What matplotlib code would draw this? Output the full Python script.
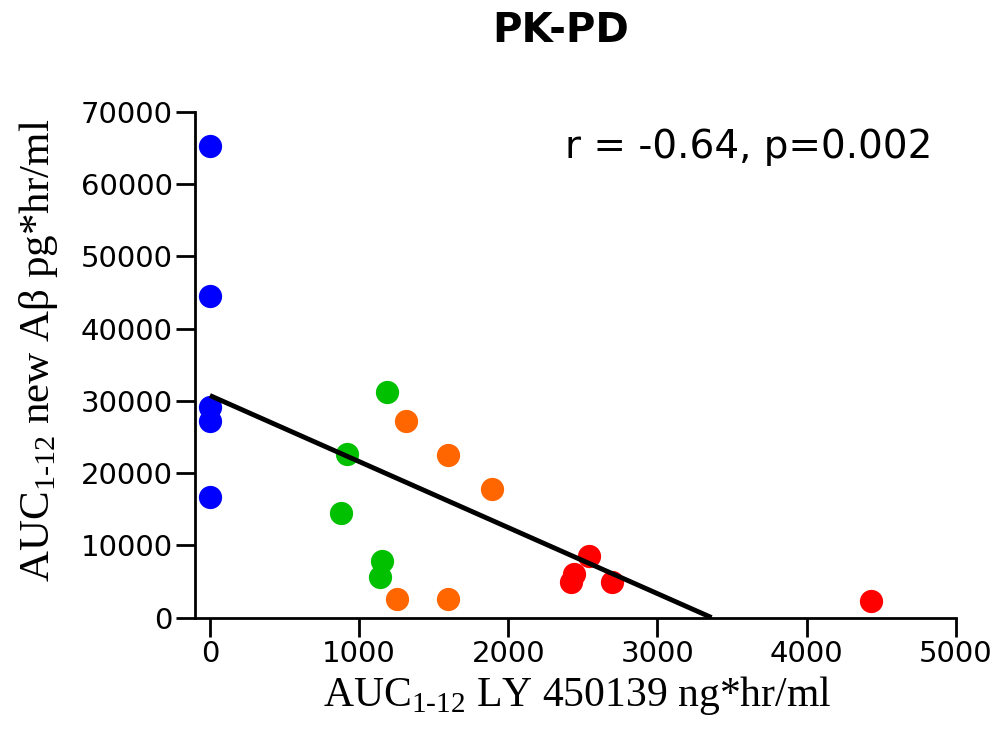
import numpy as np
import matplotlib
matplotlib.use("Agg")
import matplotlib.pyplot as plt

# AUC values, one list per dose group
blue_x = [0, 0, 0, 0, 0]
blue_y = [65300, 44500, 29200, 27200, 16700]

green_x = [1186, 918, 878, 1153, 1139]
green_y = [31250, 22650, 14500, 7850, 5600]

orange_x = [1314, 1595, 1890, 1253, 1595]
orange_y = [27200, 22500, 17800, 2600, 2600]

red_x = [2540, 2440, 2420, 2694, 4430]
red_y = [8500, 6000, 4900, 4900, 2300]

x_ticks = [0, 1000, 2000, 3000, 4000, 5000]
y_ticks = [0, 10000, 20000, 30000, 40000, 50000, 60000, 70000]

plt.rcParams['mathtext.fontset'] = 'custom'
plt.rcParams['mathtext.rm'] = 'Liberation Serif'

fig = plt.figure(figsize=(10.05, 7.42), dpi=100)
ax = fig.add_axes([0.194, 0.1677, 0.757, 0.6813])

ms = 280
ax.scatter(blue_x, blue_y, s=ms, color='#0000ff', zorder=3, linewidths=0)
ax.scatter(green_x, green_y, s=ms, color='#00c000', zorder=3, linewidths=0)
ax.scatter(orange_x, orange_y, s=ms, color='#ff6600', zorder=3, linewidths=0)
ax.scatter(red_x, red_y, s=ms, color='#ff0000', zorder=3, linewidths=0)

# linear fit over all points, drawn from x=0 down to where it meets y=0
all_x = np.array(blue_x + green_x + orange_x + red_x, dtype=float)
all_y = np.array(blue_y + green_y + orange_y + red_y, dtype=float)
slope, intercept = np.polyfit(all_x, all_y, 1)
x_end = -intercept / slope
ax.plot([0, x_end], [intercept, 0], color='black', lw=3.5, zorder=4,
        solid_capstyle='butt')

ax.set_xlim(-100, 5000)
ax.set_ylim(0, 70000)
ax.set_xticks(x_ticks)
ax.set_yticks(y_ticks)

for s in ['top', 'right']:
    ax.spines[s].set_visible(False)
for s in ['left', 'bottom']:
    ax.spines[s].set_linewidth(2)

ax.tick_params(axis='both', length=14, width=2, pad=2, labelsize=21)

ax.set_xlabel(r'AUC$_{\mathrm{1\text{-}12}}$ LY 450139 ng*hr/ml',
              family='Liberation Serif', fontsize=30)
ax.set_ylabel(r'AUC$_{\mathrm{1\text{-}12}}$ new A$\mathrm{\beta}$ pg*hr/ml',
              family='Liberation Serif', fontsize=31)
ax.xaxis.set_label_coords(0.502, -0.112)
ax.yaxis.set_label_coords(-0.178, 0.529)

ax.text(0.969, 0.93, 'r = -0.64, p=0.002', transform=ax.transAxes,
        fontsize=28, ha='right', va='center')

fig.text(0.558, 0.958, 'PK-PD', fontsize=29, fontweight='bold',
         ha='center', va='center')

fig.savefig('out.png', dpi=100)
